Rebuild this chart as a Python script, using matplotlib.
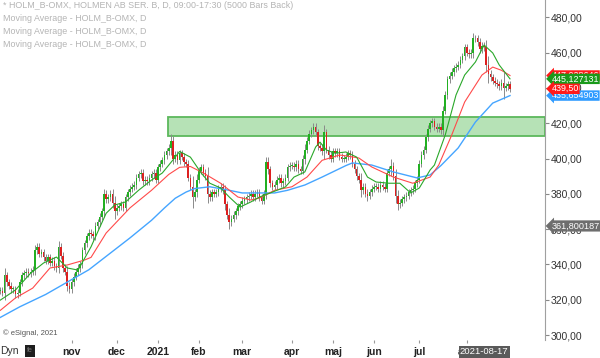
import numpy as np
import matplotlib.pyplot as plt
from matplotlib.patches import Rectangle
from matplotlib.transforms import blended_transform_factory

plt.rcParams['font.family'] = ['Liberation Sans', 'DejaVu Sans']

# daily closes, HOLM_B (bar index 0 = mid Sept 2020, last = end Aug 2021)
closes = [
    326, 325, 325, 324, 334, 330, 328, 326, 326, 323,
    324, 330, 334, 335, 336, 335, 336, 337, 348, 350,
    346, 347, 344, 342, 344, 341, 342, 339, 338, 350,
    345, 338, 336, 328, 326, 330, 333, 336, 338, 340,
    348, 352, 356, 358, 357, 356, 362, 364, 367, 370,
    380, 377, 378, 380, 375, 370, 372, 373, 374, 372,
    378, 381, 383, 384, 385, 389, 391, 392, 387, 388,
    387, 389, 391, 392, 388, 395, 397, 399, 402, 404,
    406, 410, 400, 402, 399, 403, 401, 398, 397, 389,
    384, 378, 381, 388, 393, 395, 392, 390, 380, 378,
    381, 380, 381, 383, 384, 382, 374, 368, 364, 366,
    368, 370, 373, 374, 376, 377, 378, 379, 380, 378,
    380, 381, 378, 376, 380, 398, 394, 386, 384, 385,
    388, 389, 386, 387, 389, 395, 396, 396, 395, 397,
    394, 393, 400, 405, 410, 414, 416, 418, 415, 407,
    406, 404, 415, 405, 402, 400, 404, 403, 404, 401,
    400, 400, 401, 403, 402, 397, 394, 390, 388, 382,
    384, 380, 379, 381, 383, 384, 384, 383, 385, 384,
    383, 392, 394, 396, 390, 379, 374, 375, 377, 378,
    379, 381, 382, 383, 386, 388, 397, 402, 405, 412,
    417, 420, 421, 418, 417, 418, 416, 427, 436, 445,
    447, 449, 451, 452, 453, 456, 458, 463, 460, 459,
    460, 468, 468, 466, 462, 464, 463, 453, 448, 446,
    444, 443, 442, 441, 443, 440, 441, 442, 439.5,
]
# wick length beyond the body, per bar
wick = [
    2, 2, 2, 2, 4, 2, 2, 2, 2, 2, 2, 2, 2, 2, 2, 2, 2, 2, 3, 2,
    2, 2, 2, 2, 2, 2, 2, 2, 2, 3, 2, 2, 2, 3, 2, 2, 2, 2, 2, 2,
    2, 2, 2, 2, 2, 2, 2, 2, 2, 2, 3, 2, 2, 2, 3, 4, 2, 2, 2, 2,
    2, 2, 2, 2, 2, 2, 2, 2, 2, 2, 2, 2, 2, 2, 2, 2, 2, 2, 2, 2,
    2, 4, 3, 2, 2, 2, 2, 2, 2, 2, 2, 6, 2, 3, 2, 2, 2, 2, 5, 2,
    2, 2, 2, 2, 2, 2, 3, 2, 4, 2, 2, 2, 2, 2, 2, 2, 2, 2, 2, 2,
    2, 2, 2, 2, 2, 3, 3, 2, 2, 2, 2, 2, 2, 2, 2, 2, 2, 2, 2, 2,
    2, 2, 2, 3, 2, 2, 2, 2, 2, 2, 2, 2, 4, 2, 2, 2, 2, 2, 2, 2,
    2, 2, 2, 2, 2, 2, 2, 2, 2, 4, 2, 2, 3, 2, 2, 2, 2, 2, 2, 2,
    2, 2, 2, 4, 2, 4, 3, 2, 2, 2, 2, 2, 2, 2, 2, 2, 2, 2, 2, 2,
    2, 2, 2, 2, 2, 2, 2, 3, 2, 2, 2, 2, 2, 2, 2, 2, 2, 2, 2, 2,
    2, 3, 2, 2, 2, 2, 2, 4, 5, 2, 2, 2, 2, 2, 2, 6, 2, 2, 2,
]

# moving averages (bar index, value)
ma_green_idx = [2, 9, 16, 22, 28, 33, 38, 44, 51, 55, 60, 66, 72, 77, 83, 85, 90, 95, 99, 104,
                108, 113, 118, 122, 127, 134, 138, 143, 148, 150, 153, 157, 162, 167, 172, 176,
                182, 187, 192, 196, 201, 203, 208, 213, 217, 222, 226, 230, 233, 238]
ma_green = [319.8, 325.5, 335, 340.8, 344.2, 338, 336.8, 350, 369, 373.7, 375.4, 382, 387.8, 391.8,
            400.8, 404, 400.8, 391.8, 386, 383.3, 378.2, 372.5, 375.4, 378.2, 380.5, 383.9, 389.5,
            392.4, 406.5, 409.3, 404.8, 403, 403.7, 400.8, 389.5, 386.7, 386, 386, 380.5, 383.3,
            393.5, 396.3, 413.3, 436, 447.3, 454.7, 464.3, 459.8, 453, 445.127131]
ma_red_idx = [2, 9, 17, 25, 33, 41, 44, 51, 62, 72, 80, 85, 90, 96, 104, 112, 118, 122, 129, 137,
              144, 151, 156, 159, 162, 168, 174, 184, 193, 201, 205, 211, 217, 225, 230, 234, 238]
ma_red = [314, 321, 326.6, 338, 339.7, 342.5, 344, 357.8, 372, 382, 391, 395, 395.5, 391.8, 386,
          378.2, 376.5, 377.6, 382, 384, 389.5, 399, 400.8, 402, 401.5, 400.3, 395.2, 389.5, 386,
          389.5, 396.3, 413.3, 432, 447.3, 451.8, 450, 447.028646]
ma_blue_idx = [2, 11, 23, 43, 62, 72, 78, 83, 88, 92, 99, 108, 114, 122, 129, 135, 143, 151, 162,
               165, 174, 184, 195, 201, 206, 214, 222, 230, 238]
ma_blue = [310, 316, 323, 337, 355, 365, 372, 377.5, 381, 383, 384, 382, 380.5, 380.5, 380.5, 382,
           385, 389.5, 396, 397.5, 396.3, 392.4, 389, 390.7, 396, 406, 420.7, 431.4, 435.654903]

month_idx = [35, 56, 75, 94, 114, 137, 156, 175, 196, 218]
month_lbl = ["nov", "dec", "2021", "feb", "mar", "apr", "maj", "jun", "jul", "aug"]
y_ticks = [300, 320, 340, 360, 380, 400, 420, 440, 460, 480]

zone_start = 79.5
zone_lo, zone_hi = 412.7, 423.5
cursor_idx = 226
cursor_price = 361.800187
cursor_date = "2021-08-17"

last_vals = [447.028646, 445.127131, 435.654903, 439.50]
last_txt = ["447,028646", "445,127131", "435,654903", "439,50"]
last_col = ["#ff1a1a", "#1a9a1a", "#2f9bff", "#ff1a1a"]

header = ["* HOLM_B-OMX, HOLMEN AB SER. B, D, 09:00-17:30 (5000 Bars Back)",
          "Moving Average - HOLM_B-OMX, D",
          "Moving Average - HOLM_B-OMX, D",
          "Moving Average - HOLM_B-OMX, D"]

fig = plt.figure(figsize=(6, 3.58), dpi=100)
ax = fig.add_axes([0, 18 / 358, 545 / 600, 340 / 358])
xlim = (1.85, 254.2)
ax.set_xlim(*xlim)
ax.set_ylim(297.2, 489.8)

c = np.array(closes, dtype=float)
o = np.r_[c[0], c[:-1]]
w = np.array(wick, dtype=float)
x = np.arange(len(c))
hi = np.maximum(o, c) + w
lo = np.minimum(o, c) - w
up = c >= o

ax.add_patch(Rectangle((zone_start, zone_lo), xlim[1] - zone_start, zone_hi - zone_lo,
                       facecolor="#b6e2b6", edgecolor="#5cb85c", lw=1.3, zorder=1))

ax.vlines(x, lo, hi, color="#8a8a8a", lw=0.7, zorder=2)
h = np.where(np.abs(c - o) < 0.5, 0.5, c - o)
ax.bar(x, h, bottom=o, width=0.75, color=np.where(up, "#22b022", "#dd2020"),
       edgecolor="none", zorder=3)

ax.plot(ma_blue_idx, ma_blue, color="#45a5ff", lw=1.0, zorder=4)
ax.plot(ma_red_idx, ma_red, color="#ff4a4a", lw=0.8, zorder=4)
ax.plot(ma_green_idx, ma_green, color="#2aa82a", lw=0.8, zorder=4)

for s in ["top", "left", "bottom"]:
    ax.spines[s].set_visible(False)
ax.spines["right"].set_color("#a0a0a0")

ax.yaxis.tick_right()
ax.set_yticks(y_ticks)
ax.set_yticklabels([f"{v:.2f}".replace(".", ",") for v in y_ticks])
ax.tick_params(axis="y", direction="out", length=3, color="#888888", labelsize=7.5,
               labelcolor="#333333", pad=1)
ax.set_xticks(month_idx)
ax.set_xticklabels(month_lbl, fontweight="bold")
ax.tick_params(axis="x", direction="out", length=2, color="#999999", labelsize=7.5,
               labelcolor="#222222", pad=3)

# price labels on the right edge
tr = blended_transform_factory(ax.transAxes, ax.transData)
for v, t, col in zip(last_vals, last_txt, last_col):
    ax.text(1.012, v, t, transform=tr, fontsize=6.4, color="white", va="center", ha="left",
            clip_on=False, zorder=10,
            bbox=dict(boxstyle="larrow,pad=0.08", fc=col, ec="none"))
ax.text(1.012, cursor_price, "361,800187", transform=tr, fontsize=6.6, color="white",
        va="center", ha="left", clip_on=False, zorder=10,
        bbox=dict(boxstyle="larrow,pad=0.12", fc="#6e6e6e", ec="none"))

# cursor date at the bottom
trd = blended_transform_factory(ax.transData, fig.transFigure)
ax.text(cursor_idx, 1 - 352 / 358, cursor_date, transform=trd, fontsize=6.8, color="white",
        ha="center", va="center", clip_on=False, zorder=10,
        bbox=dict(boxstyle="square,pad=0.12", fc="#5a5a5a", ec="none"))

for k, line in enumerate(header):
    fig.text(3 / 600, 1 - (6 + 12.8 * k) / 358, line, fontsize=6.4, color="#b4b4b4", va="center")
fig.text(3 / 600, 1 - 333 / 358, "\u00a9 eSignal, 2021", fontsize=5.5, color="#555555",
         va="center")
fig.text(0 / 600, 1 - 351 / 358, "Dyn", fontsize=7.5, color="#333333", va="center")
fig.patches.append(Rectangle((25 / 600, 1 - 357 / 358), 10 / 600, 12 / 358,
                             transform=fig.transFigure, fc="#1e1e1e", ec="none"))
fig.text(30 / 600, 1 - 351 / 358, "fe", fontsize=5, color="#777777", va="center", ha="center")

fig.savefig("out.png", dpi=100)
